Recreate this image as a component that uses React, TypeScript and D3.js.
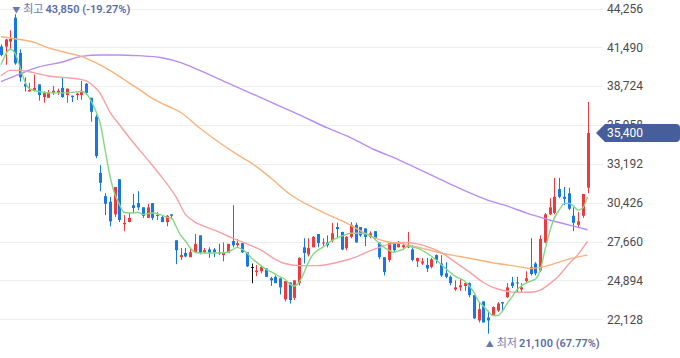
import * as d3 from "d3";

const W = 680;
const H = 358;

const yTicks = [44256, 41490, 38724, 35958, 33192, 30426, 27660, 24894, 22128];

// daily candles: [open, high, low, close]
const ohlc: [number, number, number, number][] = [
  [41550, 41700, 40850, 40950], [41550, 42100, 40250, 42050], [41900, 42700, 41350, 42100],
  [43600, 43850, 40250, 40350], [41100, 41350, 39050, 39350], [38900, 39350, 38350, 38700],
  [38350, 38950, 38350, 38450], [38400, 39550, 38350, 38600], [38850, 38850, 37700, 38100],
  [37950, 38350, 37550, 38250], [37900, 38450, 37900, 38250], [38250, 38750, 38100, 38400],
  [38250, 38550, 38100, 38400], [38600, 39350, 37900, 37950], [38100, 38550, 37550, 38550],
  [38050, 38050, 37600, 37950], [38100, 38250, 37750, 38200], [38100, 39100, 37750, 38400],
  [38900, 38950, 38100, 38250], [37900, 37900, 36200, 36900], [36550, 36700, 33600, 33750],
  [32550, 33100, 31250, 31850], [30900, 31100, 29550, 30350], [30500, 30850, 28750, 29100],
  [29600, 31550, 29400, 31550], [32100, 32100, 29050, 29200], [28900, 29550, 28400, 29000],
  [29050, 29700, 29050, 29350], [30250, 31050, 29700, 30050], [30400, 31250, 29900, 30100],
  [30100, 30100, 29350, 29500], [29350, 30350, 29350, 30100], [30400, 30400, 29200, 29350],
  [29500, 29750, 29200, 29550], [29400, 29550, 29050, 29050], [29050, 29550, 28750, 29500],
  [29600, 29600, 29250, 29500], [27750, 27750, 26050, 27050], [26550, 27200, 26350, 26700],
  [26850, 27200, 26550, 26600], [26550, 27200, 26550, 26900], [26900, 28200, 26850, 27500],
  [28100, 28100, 26750, 26850], [26900, 27200, 26850, 27050], [27100, 27250, 26500, 26850],
  [27100, 27200, 26550, 26900], [26900, 27500, 26700, 26850], [26700, 27600, 26250, 26900],
  [26850, 27500, 26850, 27500], [27700, 30250, 27250, 27400], [27400, 27850, 27250, 27550],
  [27550, 27550, 26850, 26900], [26900, 26900, 25850, 25900], [25850, 26100, 24700, 25850],
  [25500, 26000, 25200, 25600], [25550, 26000, 25400, 25850], [25750, 25750, 25150, 25150],
  [25050, 25150, 24500, 24900], [25150, 25250, 24700, 24700], [25050, 25050, 23900, 24400],
  [23550, 24850, 23400, 24850], [24750, 24750, 23250, 23500], [23650, 24900, 23500, 24900],
  [24700, 26550, 24550, 26500], [27250, 27900, 26100, 26850], [26750, 27900, 26600, 27200],
  [27250, 28050, 27250, 28000], [28200, 28200, 27250, 27550], [27550, 27900, 27350, 27600],
  [27600, 28100, 27250, 27400], [27750, 29000, 27600, 28250], [28700, 29000, 27900, 28550],
  [28350, 28350, 27050, 27100], [27200, 28050, 27050, 28000], [28000, 29050, 27900, 28850],
  [28850, 29000, 27600, 27600], [28700, 28700, 28000, 28100], [28600, 28600, 27350, 28000],
  [28000, 28400, 27900, 28250], [28400, 28400, 27750, 27850], [27600, 27600, 26400, 26550],
  [26550, 26550, 25250, 25500], [26350, 27600, 26200, 27550], [27600, 27600, 26900, 27050],
  [27250, 27700, 27250, 27550], [27250, 27550, 27050, 27400], [27250, 28350, 27200, 27400],
  [27100, 27400, 26250, 26350], [26250, 26500, 25850, 26500], [26100, 26500, 26000, 26250],
  [26000, 26500, 25500, 25750], [25850, 26500, 25750, 26400], [26700, 26750, 26100, 26350],
  [26100, 26700, 25150, 25250], [25400, 26200, 25050, 25150], [25150, 25250, 24550, 24700],
  [24250, 24900, 24150, 24400], [24400, 25000, 24150, 24550], [24500, 24750, 24150, 24700],
  [24700, 24750, 23700, 23850], [23850, 23850, 22150, 22200], [22050, 23350, 21900, 22850],
  [23400, 23400, 21900, 21900], [22250, 22750, 21100, 22050], [22400, 23050, 22350, 23000],
  [22750, 23350, 22650, 23250], [23350, 23350, 22650, 23250], [23700, 24700, 23650, 24400],
  [24750, 25150, 24350, 24500], [24750, 25150, 24050, 24700], [24250, 24700, 24000, 24400],
  [24850, 25550, 24700, 25050], [25850, 27900, 25250, 25350], [26100, 26200, 25250, 25400],
  [25600, 28100, 25500, 27850], [27600, 29700, 27550, 29600], [29600, 30750, 29550, 30100],
  [29700, 32200, 29600, 30850], [31400, 32200, 30750, 30850], [30850, 31550, 30250, 30700],
  [31100, 31500, 29900, 30000], [29500, 30100, 28400, 29000], [28850, 29750, 28700, 29100],
  [29500, 31050, 29350, 31050], [31500, 37600, 31100, 35400],
];

// moving averages: [candle index, value]
const ma5: [number, number][] = [
  [0, 40250], [2, 41350], [3, 41050], [4, 40100], [5, 39100], [6, 38550], [8, 38350],
  [10, 38250], [14, 38250], [17, 38350], [18, 38200], [19, 37700], [20, 37000], [21, 36050],
  [22, 34200], [23, 32400], [24, 31100], [25, 30350], [26, 29750], [27, 29700], [28, 29700],
  [29, 29750], [30, 29600], [32, 29700], [34, 29550], [35, 29400], [36, 29350], [37, 28750],
  [38, 28100], [39, 27700], [40, 27200], [41, 26900], [42, 26850], [44, 26850], [46, 26850],
  [48, 26900], [49, 27100], [50, 27250], [51, 27100], [52, 26850], [53, 26500], [54, 26200],
  [56, 25700], [58, 25350], [59, 25150], [60, 25000], [61, 24650], [62, 24500], [63, 24750],
  [64, 25400], [65, 26200], [66, 26750], [67, 27050], [68, 27250], [70, 27750], [72, 28050],
  [74, 28250], [76, 28250], [78, 28100], [79, 27850], [80, 27550], [81, 27250], [82, 27050],
  [83, 26900], [84, 27000], [85, 27100], [86, 27350], [87, 27250], [88, 27200], [90, 26850],
  [92, 26350], [94, 25750], [96, 25200], [98, 24850], [99, 24500], [100, 24050], [101, 23400],
  [102, 23050], [103, 22700], [104, 22400], [105, 22400], [106, 22700], [107, 23250],
  [108, 23700], [109, 24200], [110, 24500], [111, 24700], [112, 24850], [113, 25000],
  [114, 25600], [115, 27050], [116, 28350], [117, 29350], [118, 29900], [119, 30350],
  [120, 30400], [121, 30200], [122, 29900], [123, 30050], [124, 30850],
];

const ma20: [number, number][] = [
  [0, 39450], [2, 39850], [4, 39850], [6, 39750], [8, 39600], [10, 39450], [13, 39350],
  [16, 39250], [18, 39100], [19, 38900], [20, 38600], [21, 38200], [22, 37550], [23, 36900],
  [25, 36000], [28, 34700], [31, 33500], [34, 32250], [37, 30850], [39, 29600], [41, 29050],
  [43, 28750], [46, 28350], [49, 27900], [52, 27500], [55, 27050], [58, 26400], [60, 26100],
  [63, 25950], [67, 25950], [70, 26100], [73, 26350], [75, 26550], [77, 26850], [80, 27250],
  [83, 27550], [85, 27600], [88, 27500], [91, 27200], [93, 26900], [96, 26200], [99, 25500],
  [102, 24750], [104, 24400], [106, 24200], [109, 24050], [112, 24050], [114, 24200],
  [116, 24650], [118, 25250], [120, 26050], [122, 26750], [124, 27700],
];

const ma60: [number, number][] = [
  [0, 42250], [4, 42050], [7, 41850], [10, 41450], [14, 41100], [17, 40850], [20, 40400],
  [23, 39850], [26, 39200], [29, 38550], [32, 37850], [35, 37350], [38, 36850], [42, 35750],
  [46, 34750], [50, 33850], [54, 33000], [57, 32200], [61, 31050], [65, 30250], [69, 29600],
  [73, 29000], [77, 28250], [81, 27700], [85, 27500], [89, 27200], [93, 26850], [97, 26600],
  [101, 26350], [105, 26100], [109, 25900], [112, 25750], [115, 25900], [118, 26200],
  [121, 26500], [124, 26700],
];

const ma120: [number, number][] = [
  [0, 39050], [4, 39600], [8, 40100], [13, 40450], [17, 40850], [21, 40950], [25, 40950],
  [29, 40900], [34, 40750], [38, 40400], [42, 39850], [48, 38950], [53, 38200], [58, 37450],
  [63, 36700], [69, 35750], [74, 35050], [79, 34200], [84, 33500], [90, 32550], [95, 31750],
  [100, 31000], [103, 30600], [107, 30200], [111, 29700], [116, 29200], [120, 28850],
  [124, 28500],
];

const lastPrice = 35400;
const highMark = { idx: 3, name: "최고", price: 43850, pct: "(-19.27%)" };
const lowMark = { idx: 103, name: "최저", price: 21100, pct: "(67.77%)" };

const UP = "#ee3a3f";
const DOWN = "#1677e5";
const FONT = "Roboto, 'Noto Sans CJK KR', sans-serif";
const fmt = d3.format(",");

export default function App() {
  const x = d3
    .scalePoint<number>()
    .domain(d3.range(ohlc.length))
    .range([1, 587.5]);
  const y = d3.scaleLinear().domain([22128, 44256]).range([319.3, 8.5]);

  const line = d3
    .line<[number, number]>()
    .x((d) => x(d[0])!)
    .y((d) => y(d[1]))
    .curve(d3.curveMonotoneX);

  const maLines = [
    { data: ma120, color: "#b98cf2" },
    { data: ma60, color: "#f9b27a" },
    { data: ma20, color: "#f6a1a3" },
    { data: ma5, color: "#82d982" },
  ];

  const badgeY = y(lastPrice);

  return (
    <svg
      width={W}
      height={H}
      style={{ position: "absolute", left: 0, top: 0, background: "#fff" }}
      fontFamily={FONT}
    >
      {/* grid */}
      {yTicks.map((t) => (
        <line
          key={t}
          x1={0}
          x2={603}
          y1={Math.round(y(t)) + 0.5}
          y2={Math.round(y(t)) + 0.5}
          stroke="#eceef2"
        />
      ))}
      {yTicks.map((t) => (
        <text
          key={"l" + t}
          x={607}
          y={y(t)}
          dy="0.35em"
          fontSize={12}
          fill="#4b4b4b"
        >
          {fmt(t)}
        </text>
      ))}

      {/* candles */}
      {ohlc.map(([o, h, l, c], i) => {
        const cx = Math.round(x(i)!) + 0.5;
        const color = c > o ? UP : c < o ? DOWN : "#111";
        const top = y(Math.max(o, c));
        const bot = y(Math.min(o, c));
        return (
          <g key={i}>
            <line x1={cx} x2={cx} y1={y(h)} y2={y(l)} stroke={color} strokeWidth={1} />
            <rect
              x={cx - 1.5}
              y={top}
              width={3}
              height={Math.max(1, bot - top)}
              fill={color}
            />
          </g>
        );
      })}

      {/* moving averages */}
      {maLines.map((m, i) => (
        <path
          key={i}
          d={line(m.data) ?? ""}
          fill="none"
          stroke={m.color}
          strokeWidth={1.4}
        />
      ))}

      {/* high / low markers */}
      <text x={x(highMark.idx)! - 3} y={9} dy="0.35em" fontSize={11} fill="#6878ad">
        <tspan fontSize={8}>▼</tspan>
        <tspan dx={3}>{highMark.name}</tspan>
        <tspan dx={2} fontWeight={600} fill="#5a6ca6">
          {fmt(highMark.price)} {highMark.pct}
        </tspan>
      </text>
      <text x={x(lowMark.idx)! - 2.5} y={343} dy="0.35em" fontSize={11} fill="#6878ad">
        <tspan fontSize={8}>▲</tspan>
        <tspan dx={3}>{lowMark.name}</tspan>
        <tspan dx={2} fontWeight={600} fill="#5a6ca6">
          {fmt(lowMark.price)} {lowMark.pct}
        </tspan>
      </text>

      {/* last price badge */}
      <path
        d={`M596,${badgeY} L605,${badgeY - 9} H676 Q680,${badgeY - 9} 680,${badgeY - 5} V${badgeY + 5} Q680,${badgeY + 9} 676,${badgeY + 9} H605 Z`}
        fill="#465f9a"
      />
      <text x={607} y={badgeY} dy="0.36em" fontSize={12} fill="#fff">
        {fmt(lastPrice)}
      </text>
    </svg>
  );
}
